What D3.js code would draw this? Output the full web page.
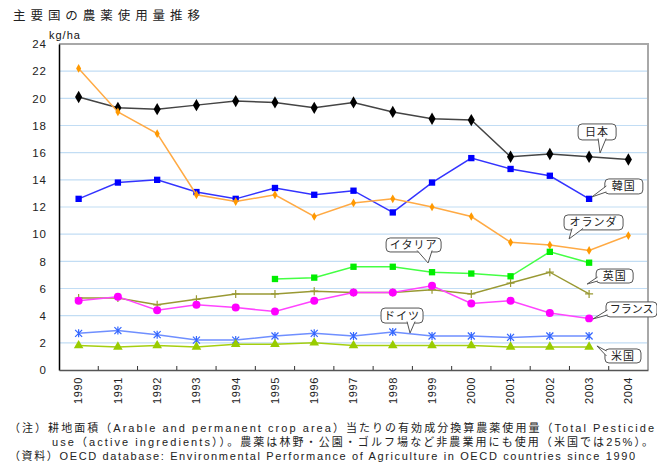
<!DOCTYPE html>
<html>
<head>
<meta charset="utf-8">
<script src="https://cdn.jsdelivr.net/npm/d3@7"></script>
<style>
  body { margin: 0; background: #fff; }
  svg { display: block; font-family: "Liberation Sans", "Noto Sans CJK JP", sans-serif; }
</style>
</head>
<body>
<div id="chart"></div>
<script>
// data (kg/ha)
const years = ["1990","1991","1992","1993","1994","1995","1996","1997","1998","1999","2000","2001","2002","2003","2004"];
const japan       = [20.1, 19.3, 19.2, 19.5, 19.8, 19.7, 19.3, 19.7, 19.0, 18.5, 18.4, 15.7, 15.9, 15.7, 15.5];
const korea       = [12.6, 13.8, 14.0, 13.1, 12.6, 13.4, 12.9, 13.2, 11.6, 13.8, 15.6, 14.8, 14.3, 12.6, null];
const netherlands = [22.2, 19.0, 17.4, 12.9, 12.4, 12.9, 11.3, 12.3, 12.6, 12.0, 11.3, 9.4, 9.2, 8.8, 9.9];
const italy       = [null, null, null, null, null, 6.7, 6.8, 7.6, 7.6, 7.2, 7.1, 6.9, 8.7, 7.9, null];
const uk          = [5.3, 5.3, 4.8, 5.2, 5.6, 5.6, 5.8, 5.7, 5.7, 5.9, 5.6, 6.4, 7.2, 5.6, null];
const france      = [5.1, 5.4, 4.4, 4.8, 4.6, 4.3, 5.1, 5.7, 5.7, 6.2, 4.9, 5.1, 4.2, 3.8, null];
const germany     = [2.7, 2.9, 2.6, 2.2, 2.2, 2.5, 2.7, 2.5, 2.8, 2.5, 2.5, 2.4, 2.5, 2.5, null];
const usa         = [1.8, 1.7, 1.8, 1.7, 1.9, 1.9, 2.0, 1.8, 1.8, 1.8, 1.8, 1.7, 1.7, 1.7, null];
const yTicks = [0, 2, 4, 6, 8, 10, 12, 14, 16, 18, 20, 22, 24];

const title = "主要国の農薬使用量推移";
const notes = [
  "（注）耕地面積（Arable and permanent crop area）当たりの有効成分換算農薬使用量（Total Pesticide",
  "use（active ingredients））。農薬は林野・公園・ゴルフ場など非農業用にも使用（米国では25%）。",
  "（資料）OECD database: Environmental Performance of Agriculture in OECD countries since 1990"
];

// series styles
const series = [
  { name: "日本",     values: japan,       line: "#444444", fill: "#000000", shape: "diamond", size: 44 },
  { name: "韓国",     values: korea,       line: "#3333ff", fill: "#0000ff", shape: "square",  size: 40 },
  { name: "オランダ", values: netherlands, line: "#ffaa44", fill: "#ff9900", shape: "diamond", size: 22 },
  { name: "イタリア", values: italy,       line: "#44ff44", fill: "#00ee00", shape: "square",  size: 40 },
  { name: "英国",     values: uk,          line: "#999933", fill: "#999933", shape: "plus",    size: 0 },
  { name: "フランス", values: france,      line: "#ff44ff", fill: "#ff00ff", shape: "circle",  size: 50 },
  { name: "ドイツ",   values: germany,     line: "#6f8fff", fill: "#3366ff", shape: "star",    size: 0 },
  { name: "米国",     values: usa,         line: "#a5cf10", fill: "#99cc00", shape: "triangle",size: 40 }
];

// callouts: tip at (year, value), box and wedge base offsets from the tip in px
const callouts = [
  { text: "日本",     year: 2003.28, value: 15.98, box: [-22, -29, 38, 16], base: [[-2, -13], [6, -13]], edge: "b", ls: 1 },
  { text: "韓国",     year: 2003.07, value: 12.74, box: [13, -18, 38, 15],  base: [[13, -11], [13, -5]], edge: "l", ls: 1 },
  { text: "オランダ", year: 2002.49, value: 9.65,  box: [-5, -24, 59, 15],  base: [[3, -9], [14, -9]],   edge: "b", ls: 1 },
  { text: "英国",     year: 2002.95, value: 6.33,  box: [9, -15, 37, 14],   base: [[9, -7], [9, -3]],     edge: "l", ls: 1 },
  { text: "フランス", year: 2003.10, value: 3.76,  box: [13, -17, 51, 15],  base: [[13, -9], [13, -4]],   edge: "l", ls: 0 },
  { text: "米国",     year: 2003.20, value: 1.77,  box: [8, 3, 36, 14],     base: [[8, 5], [8, 10]],      edge: "l", ls: 1 },
  { text: "イタリア", year: 1998.90, value: 7.88,  box: [-42, -25, 55, 14], base: [[-11, -11], [4, -11]], edge: "b", ls: 1 },
  { text: "ドイツ",   year: 1998.44, value: 2.72,  box: [-29, -25, 42, 15], base: [[-3, -10], [5, -10]],  edge: "b", ls: 1 }
];

const width = 657, height = 468;
const margin = { top: 44, bottom: 98, left: 59, right: 9 };

const svg = d3.select("#chart").append("svg")
  .attr("width", width)
  .attr("height", height);

const xScale = d3.scaleBand()
  .domain(years)
  .range([margin.left, width - margin.right]);

const yScale = d3.scaleLinear()
  .domain([0, 24])
  .range([height - margin.bottom, margin.top]);

const xCenter = i => xScale(years[i]) + xScale.bandwidth() / 2;
// fractional years for callout tips
const xYear = y => xScale(years[0]) + xScale.bandwidth() / 2 + (y - +years[0]) * xScale.step();

// title
svg.append("text")
  .attr("x", 13).attr("y", 20)
  .attr("font-size", 12.5)
  .attr("fill", "#222")
  .attr("textLength", 187)
  .attr("lengthAdjust", "spacing")
  .text(title);

svg.append("text")
  .attr("x", 49).attr("y", 39)
  .attr("font-size", 11)
  .attr("fill", "#111")
  .attr("letter-spacing", 1)
  .text("kg/ha");

// grid
svg.append("g")
  .selectAll("line")
  .data(yTicks.filter(d => d > 0 && d < 24))
  .join("line")
  .attr("x1", margin.left).attr("x2", width - margin.right)
  .attr("y1", d => yScale(d)).attr("y2", d => yScale(d))
  .attr("stroke", "#c2ddf4")
  .attr("stroke-width", 1.2);

// plot frame (top & right)
svg.append("path")
  .attr("d", `M${margin.left},${yScale(24)}H${width - margin.right}V${yScale(0)}`)
  .attr("fill", "none")
  .attr("stroke", "#a8a8a8")
  .attr("stroke-width", 2);

// y axis
const yAxis = d3.axisLeft(yScale).tickValues(yTicks).tickSize(0).tickPadding(12);
const gy = svg.append("g")
  .attr("transform", `translate(${margin.left},0)`)
  .call(yAxis);
gy.select(".domain").attr("stroke", "#000").attr("stroke-width", 1.5);
gy.selectAll("text")
  .attr("font-size", 11.5)
  .attr("letter-spacing", 1)
  .attr("fill", "#222")
  .attr("font-family", "Liberation Sans, sans-serif");

// x axis
const xAxis = d3.axisBottom(xScale).tickSize(0).tickFormat(d => d);
const gx = svg.append("g")
  .attr("transform", `translate(0,${yScale(0)})`)
  .call(xAxis);
gx.select(".domain").attr("stroke", "#555").attr("stroke-width", 1.5);
gx.selectAll("text")
  .attr("font-size", 11)
  .attr("fill", "#222")
  .attr("font-family", "Liberation Sans, sans-serif")
  .attr("text-anchor", "end")
  .attr("transform", "rotate(-90)")
  .attr("x", -7)
  .attr("y", 0)
  .attr("dy", "0.35em")
  .attr("letter-spacing", 0.6);
// inward ticks between categories
gx.selectAll(".sep")
  .data(years.slice(1))
  .join("line")
  .attr("class", "sep")
  .attr("x1", d => xScale(d)).attr("x2", d => xScale(d))
  .attr("y1", 0).attr("y2", -4)
  .attr("stroke", "#333");

// lines
const line = d3.line()
  .defined(d => d.v != null)
  .x(d => xCenter(d.i))
  .y(d => yScale(d.v));

const symbols = {
  diamond: d3.symbolDiamond,
  square: d3.symbolSquare,
  circle: d3.symbolCircle,
  triangle: d3.symbolTriangle
};

series.forEach(s => {
  const pts = s.values.map((v, i) => ({ v, i }));
  svg.append("path")
    .datum(pts)
    .attr("d", line)
    .attr("fill", "none")
    .attr("stroke", s.line)
    .attr("stroke-width", 1.5);

  const g = svg.append("g");
  const mk = g.selectAll("path")
    .data(pts.filter(d => d.v != null))
    .join("path")
    .attr("transform", d => `translate(${xCenter(d.i)},${yScale(d.v)})`);

  if (s.shape === "plus") {
    mk.attr("d", "M-4,0H4M0,-4V4").attr("stroke", s.fill).attr("stroke-width", 1.2).attr("fill", "none");
  } else if (s.shape === "star") {
    mk.attr("d", "M-3.5,-3.5L3.5,3.5M-3.5,3.5L3.5,-3.5M0,-4V4").attr("stroke", s.fill).attr("stroke-width", 1.2).attr("fill", "none");
  } else {
    mk.attr("d", d3.symbol(symbols[s.shape], s.size)).attr("fill", s.fill);
  }
});

// callouts
callouts.forEach(c => {
  const tx = xYear(c.year), ty = yScale(c.value);
  const [bx, by, bw, bh] = c.box;
  const g = svg.append("g").attr("transform", `translate(${tx},${ty})`);
  g.append("rect")
    .attr("x", bx).attr("y", by)
    .attr("width", bw).attr("height", bh)
    .attr("rx", 4)
    .attr("fill", "#fff")
    .attr("stroke", "#555")
    .attr("stroke-width", 1);
  const inset = 1.5;
  const b = c.base.map(p => c.edge === "b" ? [p[0], p[1] - inset] : [p[0] + inset, p[1]]);
  g.append("path")
    .attr("d", `M${b[0][0]},${b[0][1]}L0,0L${b[1][0]},${b[1][1]}`)
    .attr("fill", "#fff")
    .attr("stroke", "#555")
    .attr("stroke-width", 1);
  g.append("text")
    .attr("x", bx + bw / 2)
    .attr("y", by + bh / 2)
    .attr("dy", "0.36em")
    .attr("text-anchor", "middle")
    .attr("font-size", 11)
    .attr("letter-spacing", c.ls)
    .attr("fill", "#222")
    .text(c.text);
});

// notes
const noteX = [9, 52, 9];
const noteY = [432, 446, 460];
const noteW = [645, 601, 626];
svg.append("g")
  .selectAll("text")
  .data(notes)
  .join("text")
  .attr("x", (d, i) => noteX[i])
  .attr("y", (d, i) => noteY[i])
  .attr("font-size", 11)
  .attr("fill", "#222")
  .attr("textLength", (d, i) => noteW[i])
  .attr("lengthAdjust", "spacing")
  .text(d => d);
</script>
</body>
</html>
